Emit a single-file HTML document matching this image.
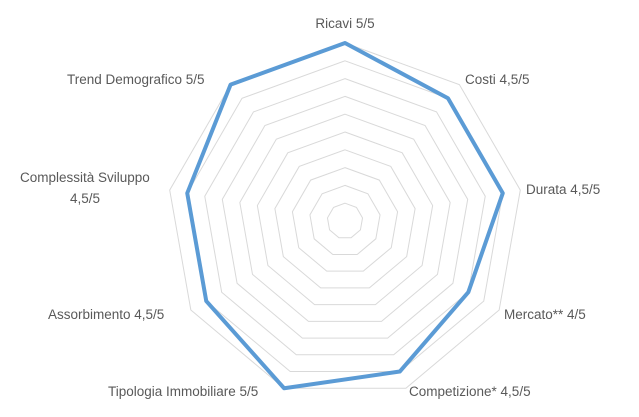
<!DOCTYPE html>
<html><head><meta charset="utf-8"><style>
body{margin:0;background:#fff}
svg{display:block;font-family:"Liberation Sans",sans-serif}
text{fill:#595959;font-size:13.5px}
</style></head><body>
<svg id="chart" width="639" height="417" viewBox="0 0 639 417">
<g id="grid"></g>
<g id="series"></g>
<g id="labels">
<text x="345" y="28" text-anchor="middle">Ricavi 5/5</text>
<text x="465" y="84">Costi 4,5/5</text>
<text x="526" y="194">Durata 4,5/5</text>
<text x="504" y="319">Mercato** 4/5</text>
<text x="409" y="396">Competizione* 4,5/5</text>
<text x="108" y="396">Tipologia Immobiliare 5/5</text>
<text x="48" y="319">Assorbimento 4,5/5</text>
<text x="20" y="182">Complessità Sviluppo</text>
<text x="70" y="203">4,5/5</text>
<text x="67" y="84">Trend Demografico 5/5</text>
</g>
</svg>
<script>
const categories=["Ricavi","Costi","Durata","Mercato**","Competizione*","Tipologia Immobiliare","Assorbimento","Complessità Sviluppo","Trend Demografico"];
const values=[5,4.5,4.5,4,4.5,5,4.5,4.5,5];
const ringSteps=[0.5,1,1.5,2,2.5,3,3.5,4,4.5,5];
const maxVal=5;
const cx=345,cy=221,R=178;
const NS="http://www.w3.org/2000/svg";
function pt(i,v){const a=-Math.PI/2+i*2*Math.PI/categories.length;const r=v/maxVal*R;return [cx+r*Math.cos(a),cy+r*Math.sin(a)];}
const grid=document.getElementById('grid');
ringSteps.forEach(s=>{
 const p=document.createElementNS(NS,'polygon');
 p.setAttribute('points',categories.map((c,i)=>pt(i,s).join(',')).join(' '));
 p.setAttribute('fill','none');p.setAttribute('stroke','#d9d9d9');p.setAttribute('stroke-width','1');
 
 
 grid.appendChild(p);
});
const s=document.createElementNS(NS,'polygon');
s.setAttribute('points',values.map((v,i)=>pt(i,v).join(',')).join(' '));
s.setAttribute('fill','none');s.setAttribute('stroke','#5b9bd5');s.setAttribute('stroke-width','4');s.setAttribute('stroke-linejoin','round');


document.getElementById('series').appendChild(s);
</script>
</body></html>
